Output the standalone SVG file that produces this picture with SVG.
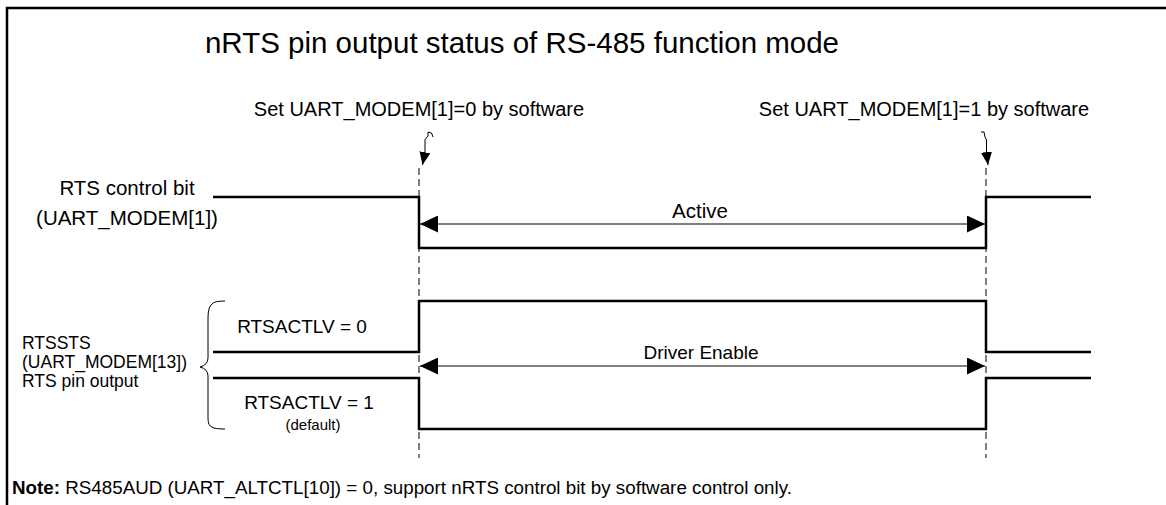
<svg xmlns="http://www.w3.org/2000/svg" width="1166" height="505" viewBox="0 0 1166 505">
<style>
text{font-family:"Liberation Sans",Arial,sans-serif;fill:#000}
.sig{fill:none;stroke:#000;stroke-width:2.5}
.dash{stroke:#000;stroke-width:1;stroke-dasharray:7,4}
.arr{stroke:#000;stroke-width:1}
.thin{fill:none;stroke:#000;stroke-width:1}
.body{font-size:20.5px}
.set{font-size:20px}
.lv{font-size:19px}
.side{font-size:17.5px}
</style>
<defs>
<marker id="ah" markerWidth="18" markerHeight="17" refX="18" refY="8.5" orient="auto-start-reverse" markerUnits="userSpaceOnUse">
<path d="M0,0 L18,8.5 L0,17 Z" fill="#000"/>
</marker>
<marker id="sh" markerWidth="13" markerHeight="11" refX="13" refY="5.5" orient="auto" markerUnits="userSpaceOnUse">
<path d="M0,0 L13,5.5 L0,11 Z" fill="#000"/>
</marker>
</defs>
<rect width="1166" height="505" fill="#fff"/>
<g id="frame"><path d="M7,505 V8 H1166" fill="none" stroke="#000" stroke-width="2.5"/></g>
<g id="title"><text x="522" y="53" font-size="29.5" text-anchor="middle">nRTS pin output status of RS-485 function mode</text></g>
<g id="label-set0"><text class="set" x="419" y="116" text-anchor="middle">Set UART_MODEM[1]=0 by software</text></g>
<g id="label-set1"><text class="set" x="924" y="116" text-anchor="middle">Set UART_MODEM[1]=1 by software</text></g>
<g id="label-rts">
<text class="body" x="127" y="195" text-anchor="middle">RTS control bit</text>
<text class="body" x="127" y="225" text-anchor="middle">(UART_MODEM[1])</text>
</g>
<g id="label-rtssts">
<text class="side" x="22" y="349">RTSSTS</text>
<text class="side" x="22" y="368">(UART_MODEM[13])</text>
<text class="side" x="22" y="387">RTS pin output</text>
</g>
<g id="label-lv0"><text class="lv" x="302" y="333" text-anchor="middle">RTSACTLV = 0</text></g>
<g id="label-lv1">
<text class="lv" x="309" y="409" text-anchor="middle">RTSACTLV = 1</text>
<text x="313" y="430" font-size="15" text-anchor="middle">(default)</text>
</g>
<g id="signal-rts"><path class="sig" d="M213,197 H419 V248 H986 V197 H1091"/></g>
<g id="signal-lv0"><path class="sig" d="M213,352 H419 V301 H986 V352 H1091"/></g>
<g id="signal-lv1"><path class="sig" d="M213,378 H419 V429 H986 V378 H1091"/></g>
<g id="brace"><path class="thin" d="M225,301 Q214,301 212,304 Q208,307 208,318 V358 Q208,365 200,367 Q208,369 208,376 V418 Q208,426 212,427 Q214,429 225,429"/></g>
<g id="connectors">
<line class="dash" x1="419" y1="168" x2="419" y2="458"/>
<line class="dash" x1="986" y1="168" x2="986" y2="458"/>
<line class="arr" x1="420" y1="224" x2="985" y2="224" marker-start="url(#ah)" marker-end="url(#ah)"/>
<line class="arr" x1="420" y1="366" x2="985" y2="366" marker-start="url(#ah)" marker-end="url(#ah)"/>
<path class="thin" d="M433,137 L431.5,133 L428,132 V136 L425,139.5 V152 L422.5,165" marker-end="url(#sh)"/>
<path class="thin" d="M981,132 H984 L985,137 L986.5,140 V152 L988,165" marker-end="url(#sh)"/>
</g>
<g id="label-active"><text class="body" x="700" y="218" text-anchor="middle">Active</text></g>
<g id="label-de"><text class="lv" x="701" y="359" text-anchor="middle">Driver Enable</text></g>
<g id="note"><text x="12" y="494" font-size="18.8"><tspan font-weight="bold">Note:</tspan> RS485AUD (UART_ALTCTL[10]) = 0, support nRTS control bit by software control only.</text></g>
</svg>
